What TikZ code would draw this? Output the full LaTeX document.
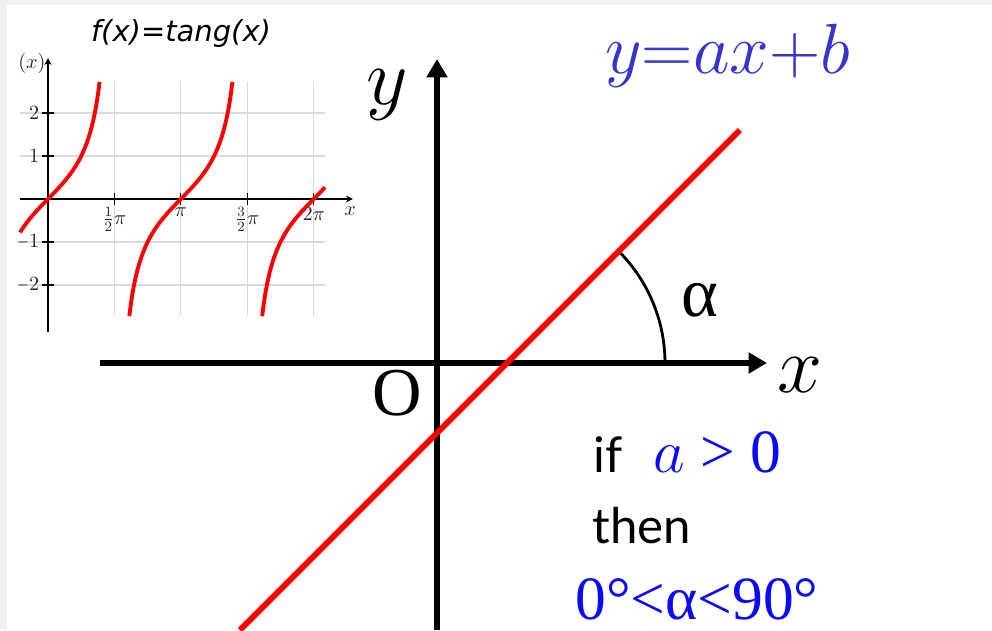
\RequirePackage{fix-cm}
\documentclass[tikz,border=0pt]{standalone}
\usepackage{fontspec}
\usepackage{tikz}
\newfontfamily\timesfont{Liberation Serif}
\newfontfamily\gillfont{Lato}
\newfontfamily\titlefont{DejaVu Sans}
\definecolor{linered}{RGB}{255,0,0}
\definecolor{eqblue}{RGB}{52,52,206}
\definecolor{condblue}{RGB}{10,10,250}
\definecolor{bordergray}{RGB}{240,240,240}
\definecolor{gridgray}{RGB}{218,218,218}
\usetikzlibrary{arrows.meta}
\tikzset{
    mainaxis/.style={-{Triangle[length=10.5pt, width=11.5pt]}, line width=3.4pt, black},
    redline/.style={line width=3.4pt, color=linered},
    anglearc/.style={line width=1.6pt, black},
    inaxis/.style={-{Stealth[length=4pt, width=4pt]}, line width=1.1pt, black},
    ingrid/.style={line width=0.6pt, color=gridgray},
    intick/.style={line width=0.6pt, black},
    tanplot/.style={line width=2.2pt, color=linered, smooth, samples=60},
    ticklab/.style={inner sep=0pt, font=\fontsize{11.5}{13}\selectfont, text=black!85},
    axislabel/.style={inner sep=0pt, font=\fontsize{46}{52}\selectfont},
    greeklabel/.style={inner sep=0pt, font=\timesfont\fontsize{40}{46}\selectfont},
}

\begin{document}
\begin{tikzpicture}[x=0.02cm, y=-0.02cm]
    % Page and border
    \useasboundingbox (0,0) rectangle (992,630);
    \fill[bordergray] (0,0) rectangle (992,630);
    \fill[white] (7,5) rectangle (992,630);

    % Inset graph of the tangent
    \node[inner sep=0pt, font=\titlefont\fontsize{16.5}{19}\selectfont\itshape] (title) at (181,33) {f(x)=tang(x)};
    \begin{scope}
        \clip (18,40) rectangle (372,345);
        \begin{scope}[shift={(48,199)}, x=0.846cm, y=0.86cm]
            \foreach \k in {-2,-1,1,2}
                \draw[ingrid] (-0.66,\k) -- (6.55,\k);
            \foreach \k in {1,2,3,4}
                \draw[ingrid] ({\k*pi/2},-2.72) -- ({\k*pi/2},2.72);
            \draw[inaxis] (-0.66,0) -- (7.21,0);
            \draw[inaxis] (0,-3.09) -- (0,3.28);
            \foreach \k in {-2,-1,1,2}
                \draw[intick] (-0.14,\k) -- (0.14,\k);
            \foreach \k in {1,2,3,4}
                \draw[intick] ({\k*pi/2},-0.14) -- ({\k*pi/2},0.14);
            \node[ticklab, anchor=east] (ytwo) at (-0.2,2) {$2$};
            \node[ticklab, anchor=east] (yone) at (-0.2,1) {$1$};
            \node[ticklab, anchor=east] (ymone) at (-0.2,-1) {$-1$};
            \node[ticklab, anchor=east] (ymtwo) at (-0.2,-2) {$-2$};
            \node[ticklab, anchor=north] (xhalf) at ({pi/2},-0.19) {$\frac{1}{2}\pi$};
            \node[ticklab, anchor=north] (xpi) at ({pi},-0.19) {$\pi$};
            \node[ticklab, anchor=north] (xthree) at ({3*pi/2},-0.19) {$\frac{3}{2}\pi$};
            \node[ticklab, anchor=north] (xtwo) at ({2*pi},-0.19) {$2\pi$};
            \node[ticklab, anchor=west] (xname) at (7.0,-0.28) {$x$};
            \node[ticklab, anchor=east] (fxname) at (-0.05,3.16) {$f(x)$};
            \draw[tanplot] plot[domain=-0.66:1.219] (\x,{tan(\x r)});
            \draw[tanplot] plot[domain=1.9226:4.3606] (\x,{tan(\x r)});
            \draw[tanplot] plot[domain=5.0642:6.55] (\x,{tan(\x r)});
        \end{scope}
    \end{scope}

    % Main axes
    \coordinate (origin) at (437,363);
    \coordinate (xstart) at (100,363);
    \coordinate (xend) at (767,363);
    \coordinate (ystart) at (437,630);
    \coordinate (yend) at (437,59);
    \draw[mainaxis] (xstart) -- (xend);
    \draw[mainaxis] (ystart) -- (yend);
    \node[axislabel] (ylab) at (387,95) {$y$};
    \node[axislabel] (xlab) at (800,375) {$x$};
    \node[inner sep=0pt, font=\timesfont\fontsize{39}{45}\selectfont] (olab) at (397,393) {O};

    % Line y=ax+b and its angle
    \coordinate (lowend) at (240,630);
    \coordinate (highend) at (740,130);
    \coordinate (cross) at (507,363);
    \draw[anglearc] (cross) ++(158,0) arc[start angle=0, end angle=-45, radius=158];
    \draw[redline] (lowend) -- (highend);
    \node[greeklabel] (alphalab) at (700,300) {α};

    % Texts
    \node[inner sep=0pt, anchor=base west, text=eqblue, font=\fontsize{40.5}{46}\selectfont] (eq) at (605,73) {$y{=}ax{+}b$};
    \node[inner sep=0pt, anchor=base west, font=\gillfont\fontsize{28}{32}\selectfont] (iflab) at (593,472) {if};
    \node[inner sep=0pt, anchor=base west, text=condblue, font=\timesfont\fontsize{35}{40}\selectfont] (cond) at (653,472) {$a$ > 0};
    \node[inner sep=0pt, anchor=base west, font=\gillfont\fontsize{28}{32}\selectfont] (thenlab) at (592,543) {then};
    \node[inner sep=0pt, anchor=base west, text=condblue, font=\timesfont\fontsize{35}{40}\selectfont] (result) at (575,619) {0°<α<90°};
\end{tikzpicture}
\end{document}
